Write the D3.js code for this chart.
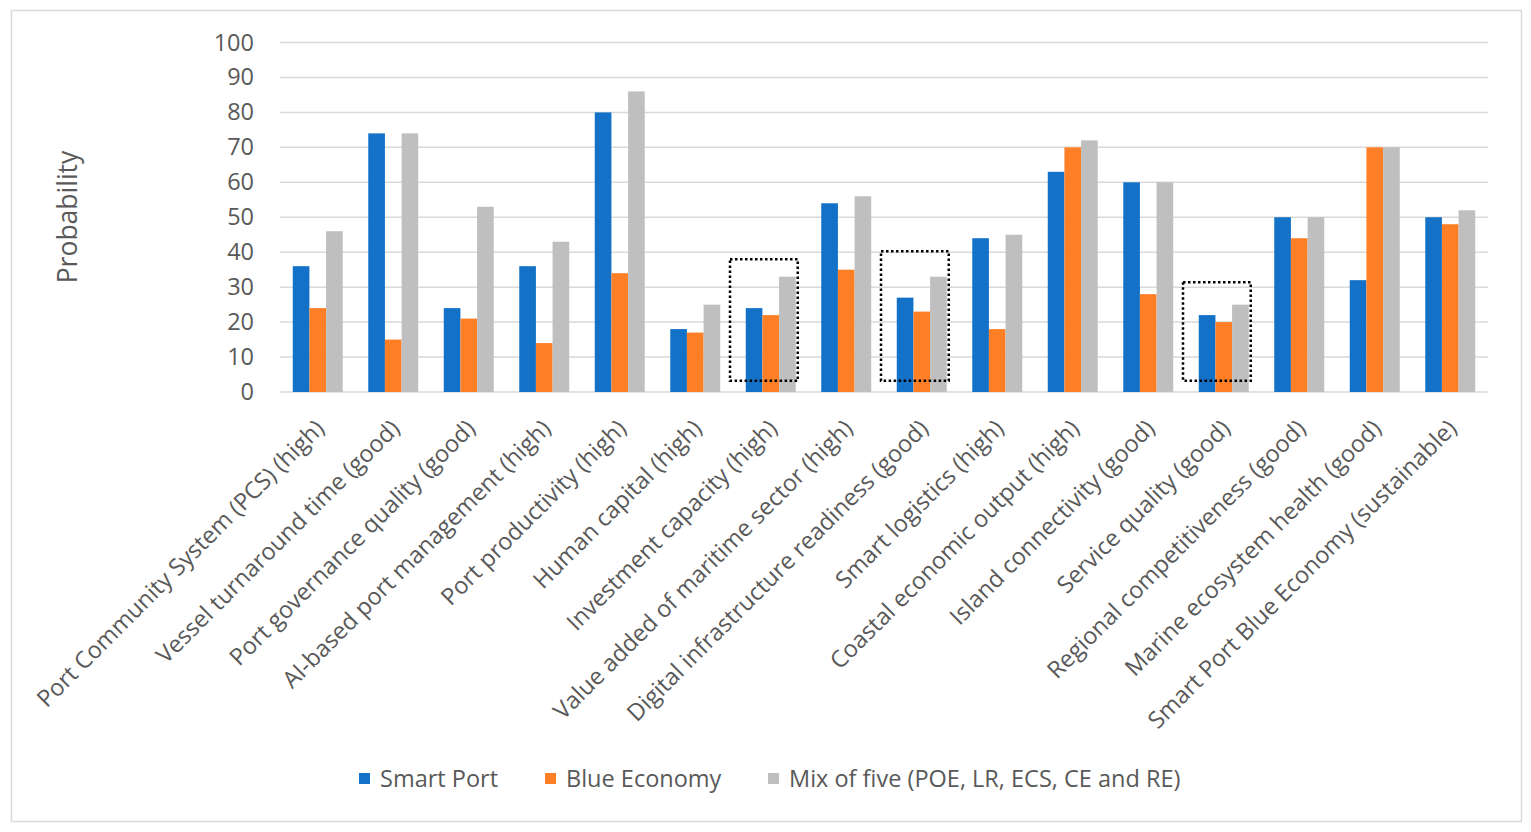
<!DOCTYPE html>
<html>
<head>
<meta charset="utf-8">
<script src="https://cdn.jsdelivr.net/npm/d3@7"></script>
<style>
    body { margin: 0; background: #fff; }
    text { font-family: 'Open Sans', sans-serif; fill: #595959; }
</style>
</head>
<body>
<svg id="chart"></svg>
<script>
var categories = [
    'Port Community System (PCS) (high)',
    'Vessel turnaround time (good)',
    'Port governance quality (good)',
    'AI-based port management (high)',
    'Port productivity (high)',
    'Human capital (high)',
    'Investment capacity (high)',
    'Value added of maritime sector (high)',
    'Digital infrastructure readiness (good)',
    'Smart logistics (high)',
    'Coastal economic output (high)',
    'Island connectivity (good)',
    'Service quality (good)',
    'Regional competitiveness (good)',
    'Marine ecosystem health (good)',
    'Smart Port Blue Economy (sustainable)'
];

var seriesNames = ['Smart Port', 'Blue Economy', 'Mix of five (POE, LR, ECS, CE and RE)'];

var smartPort   = [36, 74, 24, 36, 80, 18, 24, 54, 27, 44, 63, 60, 22, 50, 32, 50];
var blueEconomy = [24, 15, 21, 14, 34, 17, 22, 35, 23, 18, 70, 28, 20, 44, 70, 48];
var mixOfFive   = [46, 74, 53, 43, 86, 25, 33, 56, 33, 45, 72, 60, 25, 50, 70, 52];

var yTicks = [0, 10, 20, 30, 40, 50, 60, 70, 80, 90, 100];

// dotted highlight boxes: category index, top value, bottom value
var highlightCats = [6, 8, 12];
var highlightTop = [38, 40.3, 31.4];
var highlightBottom = 3.2;

var colors = ['#1372c8', '#ff7f27', '#bfbfbf'];

var WIDTH = 1531, HEIGHT = 832;
var MARGIN = { LEFT: 280, RIGHT: 43, TOP: 42.5, BOTTOM: 440 };

var svg = d3.select('#chart')
    .attr('width', WIDTH)
    .attr('height', HEIGHT);

// outer frame
svg.append('rect')
    .attr('x', 11.5).attr('y', 10.5)
    .attr('width', 1510).attr('height', 811)
    .attr('fill', 'none')
    .attr('stroke', '#d9d9d9')
    .attr('stroke-width', 1.5);

var x = d3.scaleBand()
    .domain(categories)
    .range([MARGIN.LEFT, WIDTH - MARGIN.RIGHT]);

var bw = x.bandwidth();
var xSeries = d3.scaleBand()
    .domain(d3.range(seriesNames.length))
    .range([bw * 0.169, bw * 0.831]);

var y = d3.scaleLinear()
    .domain([0, 100])
    .range([392, MARGIN.TOP]);

// gridlines
svg.append('g')
    .selectAll('line')
    .data(yTicks)
    .enter()
    .append('line')
    .attr('x1', MARGIN.LEFT)
    .attr('x2', WIDTH - MARGIN.RIGHT)
    .attr('y1', function (d) { return y(d); })
    .attr('y2', function (d) { return y(d); })
    .attr('stroke', '#d9d9d9')
    .attr('stroke-width', 1.5);

// y tick labels
var yAxis = svg.append('g')
    .attr('transform', 'translate(' + (MARGIN.LEFT - 26) + ',0)')
    .call(d3.axisLeft(y).tickValues(yTicks).tickSize(0).tickPadding(0));
yAxis.select('.domain').remove();
yAxis.selectAll('text')
    .style('font-size', '23.5px')
    .style('font-family', "'Open Sans', sans-serif")
    .attr('fill', '#595959');

// y title
svg.append('text')
    .attr('transform', 'translate(77,217) rotate(-90)')
    .attr('text-anchor', 'middle')
    .style('font-size', '26.5px')
    .text('Probability');

// bars
var values = [smartPort, blueEconomy, mixOfFive];
var groups = svg.append('g')
    .selectAll('g.cat')
    .data(categories)
    .enter()
    .append('g')
    .attr('class', 'cat')
    .attr('transform', function (d) { return 'translate(' + x(d) + ',0)'; });

groups.selectAll('rect')
    .data(function (d, i) {
        return values.map(function (s, k) { return { series: k, value: s[i] }; });
    })
    .enter()
    .append('rect')
    .attr('x', function (d) { return xSeries(d.series); })
    .attr('width', xSeries.bandwidth())
    .attr('y', function (d) { return y(d.value); })
    .attr('height', function (d) { return y(0) - y(d.value); })
    .attr('fill', function (d) { return colors[d.series]; });

// x labels rotated
var xAxis = svg.append('g')
    .attr('transform', 'translate(0,' + (y(0) + 10) + ')')
    .call(d3.axisBottom(x).tickSize(0).tickPadding(0));
xAxis.select('.domain').remove();
xAxis.selectAll('text')
    .style('font-size', '23.5px')
    .style('font-family', "'Open Sans', sans-serif")
    .attr('fill', '#595959')
    .attr('text-anchor', 'end')
    .attr('dy', '0.35em')
    .attr('transform', 'translate(2,22) rotate(-45)');

// dotted highlight boxes
svg.append('g')
    .selectAll('rect')
    .data(highlightCats)
    .enter()
    .append('rect')
    .attr('x', function (d) { return x(categories[d]) - 3; })
    .attr('width', xSeries.range()[1] + 5)
    .attr('y', function (d, i) { return y(highlightTop[i]); })
    .attr('height', function (d, i) { return y(highlightBottom) - y(highlightTop[i]); })
    .attr('fill', 'none')
    .attr('stroke', '#000')
    .attr('stroke-width', 2.5)
    .attr('stroke-dasharray', '2.5,2.5');

// legend
var legendX = [359, 545, 768];
var legend = svg.append('g')
    .selectAll('g')
    .data(seriesNames)
    .enter()
    .append('g')
    .attr('transform', function (d, i) { return 'translate(' + legendX[i] + ',773)'; });
legend.append('rect')
    .attr('width', 11).attr('height', 11)
    .attr('fill', function (d, i) { return colors[i]; });
legend.append('text')
    .attr('x', 21)
    .attr('y', 6)
    .attr('dy', '0.35em')
    .style('font-size', '23.5px')
    .text(function (d) { return d; });
</script>
</body>
</html>
